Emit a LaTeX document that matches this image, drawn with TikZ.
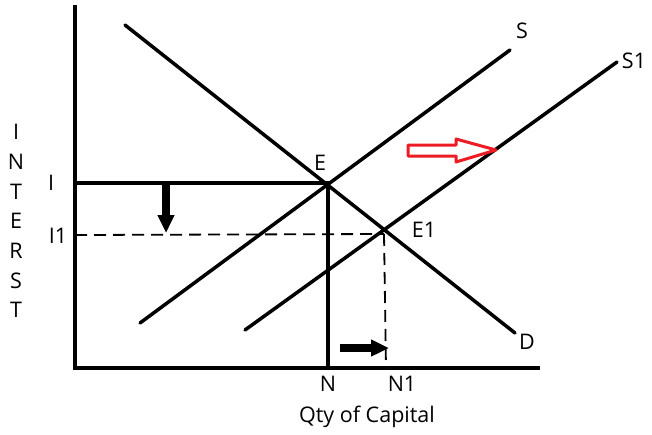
\documentclass[tikz,border=0pt]{standalone}
\usepackage{fontspec}
\setmainfont{Open Sans}
\usetikzlibrary{arrows.meta}
\definecolor{paintred}{HTML}{ED1C24}
\begin{document}
\begin{tikzpicture}[x=1pt,y=-1pt,
  lbl/.style={font=\fontsize{21.5}{21.5}\selectfont, inner sep=0pt},
  curve/.style={line width=3.5pt, line cap=round},
  axis/.style={line width=4pt},
  guide/.style={line width=3.5pt},
  dashline/.style={line width=1.8pt, dash pattern=on 12pt off 7pt},
  shiftarrow/.style={line width=7.5pt, -{Triangle[length=18pt,width=16pt]}}]
\useasboundingbox (0,0) rectangle (652,434);
% axes
\coordinate (O) at (75,368);
\coordinate (ytop) at (75,5);
\coordinate (xend) at (540,368);
\draw[axis] (ytop) -- (O) -- (xend);
% curves
\coordinate (S0) at (140,323); \coordinate (S9) at (510,50);
\coordinate (T0) at (245,330); \coordinate (T9) at (617,62);
\coordinate (D0) at (125,25);  \coordinate (D9) at (515,333);
\draw[curve] (S0) -- (S9);
\draw[curve] (T0) -- (T9);
\draw[curve] (D0) -- (D9);
% equilibria
\coordinate (E) at (328,183);
\coordinate (E1) at (384,234);
\coordinate (Iy) at (75,183);
\coordinate (Nx) at (328,368);
\coordinate (I1y) at (75,235);
\coordinate (N1x) at (386,368);
\draw[guide] (Iy) -- (E) -- (Nx);
\draw[dashline] (I1y) -- (E1);
\draw[dashline] (E1) -- (N1x);
% shift arrows
\coordinate (a1) at (166,183); \coordinate (a2) at (166,233);
\draw[shiftarrow] (a1) -- (a2);
\coordinate (b1) at (340,348); \coordinate (b2) at (389,348);
\draw[shiftarrow] (b1) -- (b2);
\draw[paintred, line width=3pt, line join=round]
  (408,145) -- (456,145) -- (456,139) -- (496,150) -- (456,162) -- (456,156) -- (408,156) -- cycle;
% labels
\node[lbl] (lS) at (522,31) {S};
\node[lbl] (lS1) at (634,61) {S1};
\node[lbl] (lD) at (527,342) {D};
\node[lbl] (lE) at (320,163) {E};
\node[lbl] (lE1) at (424,230) {E1};
\node[lbl] (lI) at (51,183) {I};
\node[lbl] (lI1) at (58,236) {I1};
\node[lbl] (lN) at (328,384) {N};
\node[lbl] (lN1) at (402,384) {N1};
\node[lbl] (lQ) at (367,417) {Qty of Capital};
\foreach \ch [count=\i] in {I,N,T,E,R,S,T}
  \node[lbl] (y\i) at (16,{132+29.7*(\i-1)}) {\ch};
\end{tikzpicture}
\end{document}
